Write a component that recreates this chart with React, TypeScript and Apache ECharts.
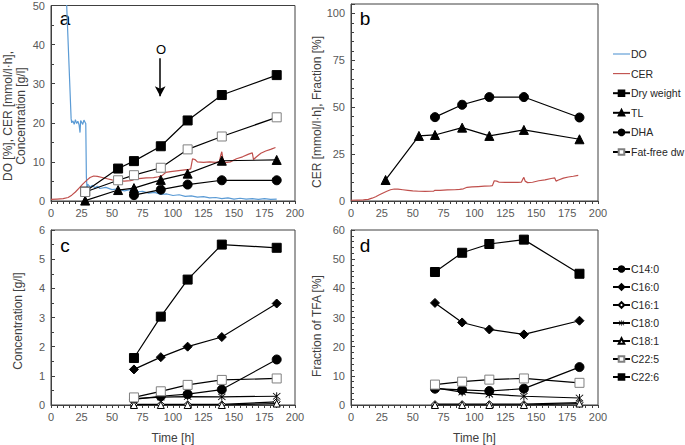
import React, { useEffect, useRef } from "react";
import * as echarts from "echarts";

// ---- data ----
const sampleTimes = [28, 55, 68, 90, 112, 140, 185];
const dryWeight = [2.4, 8.3, 10.2, 14.0, 20.6, 27.1, 32.2];
const fatFreeDw = [2.3, 5.3, 6.6, 8.5, 13.2, 16.5, 21.4];
const totalLipid = [0.1, 2.8, 3.3, 5.4, 7.0, 10.3, 10.5];
const dhaConc = [null, null, 1.5, 2.9, 4.2, 5.3, 5.3];

const tlFraction = [11.2, 34.7, 35.2, 39.1, 34.7, 37.9, 32.9];
const dhaFraction = [null, null, 44.7, 51.3, 55.4, 55.4, 44.5];

const doTrace: [number, number][] = [
  [0, 100], [12, 100], [12.8, 50.5], [16.5, 21], [17, 20], [18, 20.5], [19, 19.6], [20, 20.8],
  [21, 19.8], [22, 20.4], [23, 19.5], [23.8, 17.5], [24.3, 20.6], [25, 20.2], [26, 19.6],
  [27, 20.7], [28, 20.1], [28.5, 19.8], [29, 6], [29.5, 3.5], [30, 4.3], [32, 3.6], [34, 4.0],
  [36, 3.4], [38, 3.8], [40, 3.2], [45, 3.5], [50, 2.9], [55, 3.1], [60, 2.6], [65, 2.9],
  [70, 2.3], [75, 2.5], [80, 2.0], [85, 2.2], [90, 1.7], [95, 1.8], [100, 1.4], [105, 1.6],
  [110, 1.2], [115, 1.3], [120, 1.0], [125, 1.1], [130, 0.8], [135, 0.9], [140, 0.6],
  [145, 0.8], [150, 0.5], [155, 0.7], [160, 0.5], [165, 0.6], [170, 0.4], [175, 0.6],
  [180, 0.4], [185, 0.5],
];

const cerTrace: [number, number][] = [
  [0, 0.4], [5, 0.5], [10, 0.6], [14, 0.9], [17, 1.5], [20, 2.3], [23, 3.3], [26, 4.3],
  [29, 5.2], [32, 6.0], [35, 6.4], [38, 6.3], [42, 6.0], [46, 5.7], [50, 5.4], [55, 5.2],
  [60, 5.1], [65, 5.2], [67, 5.3], [68, 5.7], [72, 5.7], [78, 5.9], [84, 6.0], [88, 6.2],
  [91, 6.5], [94, 7.3], [98, 7.5], [103, 7.7], [108, 7.9], [113, 8.1], [114.5, 8.2],
  [116, 10.8], [118, 10.6], [120, 10.0], [125, 9.9], [130, 10.0], [135, 9.9], [138, 10.1],
  [139, 11.5], [140, 12.6], [141, 10.6], [143, 9.8], [147, 10.0], [152, 10.8], [157, 11.3],
  [162, 12.0], [165, 12.3], [166, 10.6], [168, 11.2], [172, 12.2], [176, 12.8], [180, 13.2],
  [184, 13.7],
];

const fattyTimes = [68, 90, 112, 140, 185];
const fattyNames = ["C14:0", "C16:0", "C16:1", "C18:0", "C18:1", "C22:5", "C22:6"];
const concC14 = [0.19, 0.3, 0.37, 0.53, 1.56];
const concC16_0 = [1.22, 1.64, 2.0, 2.33, 3.48];
const concC16_1 = [0.02, 0.02, 0.02, 0.02, 0.11];
const concC18_0 = [0.22, 0.27, 0.29, 0.28, 0.3];
const concC18_1 = [0.0, 0.0, 0.0, 0.0, 0.05];
const concC22_5 = [0.26, 0.47, 0.69, 0.86, 0.91];
const concC22_6 = [1.61, 3.03, 4.3, 5.5, 5.39];

const fracC14 = [5.6, 5.2, 4.8, 5.6, 13.0];
const fracC16_0 = [35.0, 28.3, 25.9, 24.2, 28.9];
const fracC16_1 = [0.3, 0.3, 0.3, 0.3, 0.8];
const fracC18_0 = [5.9, 4.4, 3.7, 3.0, 2.4];
const fracC18_1 = [0.0, 0.0, 0.0, 0.0, 0.5];
const fracC22_5 = [7.0, 8.0, 8.7, 9.1, 7.6];
const fracC22_6 = [45.6, 52.2, 55.2, 56.7, 45.0];

const xTicks = { min: 0, max: 200, interval: 25 };

const FONT = "'Liberation Sans', Arial, sans-serif";
const AXIS_COLOR = "#404040";
const LABEL_COLOR = "#595959";
const BLUE = "#5b9bd5";
const RED = "#c0504d";
const ASTERISK =
  "path://M4.5,0H5.5V10H4.5Z M0.7,1.4L1.4,0.7L9.3,8.6L8.6,9.3Z M8.6,0.7L9.3,1.4L1.4,9.3L0.7,8.6Z";
const LINE_ICON = "path://M0,0H24V1.6H0Z";

type Sym = { symbol: string; size: number; fill: string; border: string; bw?: number };
const SYM: Record<string, Sym> = {
  fsq: { symbol: "rect", size: 9, fill: "#000", border: "#000" },
  osq: { symbol: "rect", size: 9, fill: "#fff", border: "#808080" },
  ftri: { symbol: "triangle", size: 9, fill: "#000", border: "#000" },
  otri: { symbol: "triangle", size: 7, fill: "#fff", border: "#000" },
  fcir: { symbol: "circle", size: 9, fill: "#000", border: "#000" },
  fdia: { symbol: "diamond", size: 9, fill: "#000", border: "#000" },
  odia: { symbol: "diamond", size: 7, fill: "#fff", border: "#000" },
  ast: { symbol: ASTERISK, size: 8, fill: "#000", border: "#000", bw: 0 },
};

function pairs(times: number[], vals: (number | null)[]) {
  const out: [number, number][] = [];
  times.forEach((t, i) => {
    const v = vals[i];
    if (v !== null && v !== undefined) out.push([t, v]);
  });
  return out;
}

function markerSeries(name: string, grid: number, data: [number, number][], s: Sym) {
  return {
    name,
    type: "line",
    xAxisIndex: grid,
    yAxisIndex: grid,
    data,
    symbol: s.symbol,
    symbolSize: s.size,
    showSymbol: true,
    lineStyle: { color: "#000", width: 1.2 },
    itemStyle: { color: s.fill, borderColor: s.border, borderWidth: s.bw === undefined ? 1 : s.bw },
    emphasis: { disabled: true },
  };
}

function xAxis(grid: number, withName: boolean) {
  return {
    type: "value",
    gridIndex: grid,
    ...xTicks,
    name: withName ? "Time [h]" : "",
    nameLocation: "middle",
    nameGap: 27,
    nameTextStyle: { fontSize: 12, color: AXIS_COLOR, fontFamily: FONT },
    axisLine: { show: true, lineStyle: { color: AXIS_COLOR, width: 1 } },
    axisTick: { show: true, inside: false, length: 3, lineStyle: { color: AXIS_COLOR } },
    minorTick: { show: true, splitNumber: 5, length: 3, lineStyle: { color: AXIS_COLOR } },
    axisLabel: { fontSize: 11, color: LABEL_COLOR, margin: 6, fontFamily: FONT },
    splitLine: { show: false },
    minorSplitLine: { show: false },
  };
}

function yAxis(grid: number, min: number, max: number, interval: number, minorSplit: number, hideMax = false) {
  return {
    type: "value",
    gridIndex: grid,
    min,
    max,
    interval,
    axisLine: { show: true, lineStyle: { color: AXIS_COLOR, width: 1 } },
    axisTick: { show: true, inside: true, length: 4, lineStyle: { color: AXIS_COLOR } },
    minorTick: { show: true, splitNumber: minorSplit, length: 3, lineStyle: { color: AXIS_COLOR } },
    axisLabel: { fontSize: 11, color: LABEL_COLOR, margin: 6, fontFamily: FONT, showMaxLabel: hideMax ? false : true },
    splitLine: { show: false },
    minorSplitLine: { show: false },
  };
}

export default function App() {
  const ref = useRef<HTMLDivElement>(null);

  useEffect(() => {
    if (!ref.current) return;
    const chart = echarts.init(ref.current, undefined, { renderer: "svg" });

    const fattySyms = [SYM.fcir, SYM.fdia, SYM.odia, SYM.ast, SYM.otri, SYM.osq, SYM.fsq];
    const concData = [concC14, concC16_0, concC16_1, concC18_0, concC18_1, concC22_5, concC22_6];
    const fracData = [fracC14, fracC16_0, fracC16_1, fracC18_0, fracC18_1, fracC22_5, fracC22_6];

    const series: any[] = [
      {
        name: "DO",
        type: "line",
        xAxisIndex: 0,
        yAxisIndex: 0,
        data: doTrace,
        symbol: "none",
        lineStyle: { color: BLUE, width: 1.2 },
        itemStyle: { color: BLUE },
        emphasis: { disabled: true },
        markLine: {
          silent: true,
          symbol: ["none", "arrow"],
          symbolSize: [8, 10],
          label: { show: false },
          lineStyle: { color: "#000", width: 1.5, type: "solid" },
          data: [[{ coord: [89.5, 36.5] }, { coord: [89.5, 26.8] }]],
        },
      },
      {
        name: "CER",
        type: "line",
        xAxisIndex: 0,
        yAxisIndex: 0,
        data: cerTrace,
        symbol: "none",
        lineStyle: { color: RED, width: 1.2 },
        itemStyle: { color: RED },
        emphasis: { disabled: true },
      },
      markerSeries("Dry weight", 0, pairs(sampleTimes, dryWeight), SYM.fsq),
      markerSeries("TL", 0, pairs(sampleTimes, totalLipid), SYM.ftri),
      markerSeries("DHA", 0, pairs(sampleTimes, dhaConc), SYM.fcir),
      markerSeries("Fat-free dw", 0, pairs(sampleTimes, fatFreeDw), SYM.osq),
      {
        name: "CER",
        type: "line",
        xAxisIndex: 1,
        yAxisIndex: 1,
        data: cerTrace,
        symbol: "none",
        lineStyle: { color: RED, width: 1.2 },
        itemStyle: { color: RED },
        emphasis: { disabled: true },
      },
      markerSeries("TL", 1, pairs(sampleTimes, tlFraction), SYM.ftri),
      markerSeries("DHA", 1, pairs(sampleTimes, dhaFraction), SYM.fcir),
    ];
    fattyNames.forEach((n, i) => {
      series.push(markerSeries(n, 2, pairs(fattyTimes, concData[i]), fattySyms[i]));
    });
    fattyNames.forEach((n, i) => {
      series.push(markerSeries(n, 3, pairs(fattyTimes, fracData[i]), fattySyms[i]));
    });

    const gridStyle = { show: true, borderColor: AXIS_COLOR, borderWidth: 1, backgroundColor: "transparent" };

    const legendCommon = {
      orient: "vertical",
      left: 612,
      itemWidth: 17,
      itemHeight: 7,
      padding: 0,
      selectedMode: false,
      symbolKeepAspect: true,
      textStyle: { fontSize: 10.5, color: "#262626", fontFamily: FONT, lineHeight: 14, padding: [0, 0, 0, -4] },
    };

    const text = (t: string, x: number, y: number, size: number, rot = 0, extra: any = {}) => ({
      type: "text",
      x,
      y,
      rotation: rot,
      silent: true,
      style: {
        text: t,
        fontSize: size,
        fontFamily: FONT,
        fill: extra.fill || "#000",
        align: "center",
        verticalAlign: "middle",
        lineHeight: extra.lineHeight || size + 2,
      },
    });

    chart.setOption({
      animation: false,
      textStyle: { fontFamily: FONT },
      grid: [
        { left: 51, top: 4, width: 244, height: 197, ...gridStyle },
        { left: 351, top: 4, width: 247, height: 197, ...gridStyle },
        { left: 51, top: 230, width: 244, height: 180, ...gridStyle },
        { left: 351, top: 230, width: 247, height: 180, ...gridStyle },
      ],
      xAxis: [xAxis(0, false), xAxis(1, false), xAxis(2, true), xAxis(3, true)],
      yAxis: [
        yAxis(0, 0, 50, 10, 2),
        yAxis(1, 0, 105, 25, 5, true),
        yAxis(2, 0, 6, 1, 2),
        yAxis(3, 0, 60, 10, 5),
      ],
      legend: [
        {
          ...legendCommon,
          top: 47,
          itemGap: 5.6,
          data: [
            { name: "DO", icon: LINE_ICON },
            { name: "CER", icon: LINE_ICON },
            "Dry weight",
            "TL",
            "DHA",
            "Fat-free dw",
          ],
        },
        { ...legendCommon, top: 262, itemGap: 4, data: fattyNames },
      ],
      graphic: [
        text("a", 65, 18, 19),
        text("b", 365, 18, 19),
        text("c", 65, 245, 19),
        text("d", 365, 245, 19),
        text("O", 161, 49, 13),
        text("DO [%], CER [mmol/l·h],\nConcentration [g/l]", 14, 116, 12, Math.PI / 2, { fill: AXIS_COLOR, lineHeight: 13 }),
        text("CER [mmol/l·h], Fraction [%]", 317, 112, 12, Math.PI / 2, { fill: AXIS_COLOR }),
        text("Concentration [g/l]", 18, 321, 12, Math.PI / 2, { fill: AXIS_COLOR }),
        text("Fraction of TFA [%]", 317, 326, 12, Math.PI / 2, { fill: AXIS_COLOR }),
      ],
      series,
    });

    return () => chart.dispose();
  }, []);

  return (
    <div
      ref={ref}
      style={{ position: "absolute", left: 0, top: 0, width: 685, height: 445, background: "#fff" }}
    />
  );
}
